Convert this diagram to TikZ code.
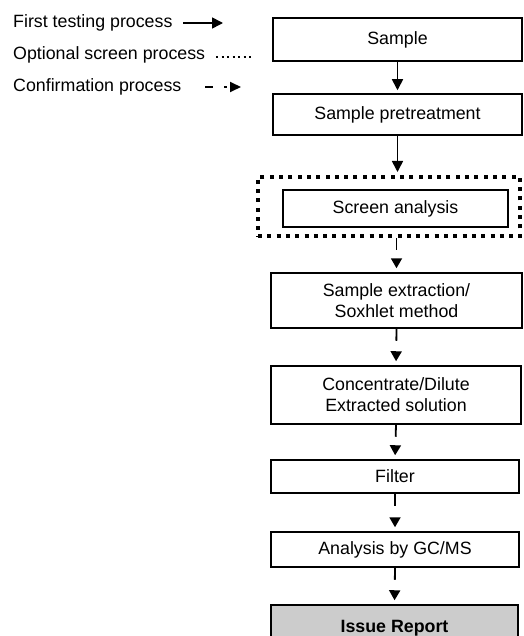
\documentclass[tikz,border=0pt]{standalone}
\usepackage{fontspec}
\setmainfont{Liberation Sans}
\usetikzlibrary{arrows.meta}
\begin{document}
\begin{tikzpicture}
[x=1pt,y=-1pt,
  boxdecorate/.style={shape=rectangle,draw,line width=1.5pt,inner sep=2pt,align=center,font=\fontsize{17.8}{21}\selectfont},%
  legenddecorate/.style={anchor=west,inner sep=0pt,font=\fontsize{17.8}{21}\selectfont},%
  firstdecorate/.style={-{Triangle[length=11pt,width=11pt]},line width=1.6pt},%
  optiondecorate/.style={line width=2pt,dash pattern=on 2pt off 3.5pt},%
  confirmdecorate/.style={-{Triangle[length=10pt,width=11pt]},line width=1.8pt,dash pattern=on 12pt off 40pt,shorten >=4pt}]
\useasboundingbox (0,0) rectangle (523,636);
% legend
\node (first) at (13,23) [legenddecorate] {First testing process};
\node (option) at (13,55) [legenddecorate] {Optional screen process};
\node (confirm) at (13,87) [legenddecorate] {Confirmation process};
\coordinate (firstA) at (183,23);
\coordinate (firstB) at (223,23);
\coordinate (optionA) at (216,57);
\coordinate (optionB) at (253,57);
\coordinate (confirmA) at (205,87);
\coordinate (confirmB) at (241,87);
% nodes or boxes
\node (sample) at (397.5,39.5) [boxdecorate,minimum width=249pt,minimum height=43pt] {Sample};
\node (pretreat) at (397.5,114.5) [boxdecorate,minimum width=249pt,minimum height=41pt] {Sample pretreatment};
\node (screenout) at (389,206.5) [draw,line width=4pt,dash pattern=on 4pt off 5.3pt,minimum width=262pt,minimum height=59pt] {};
\node (screen) at (395.5,208.5) [boxdecorate,minimum width=225pt,minimum height=37pt] {Screen analysis};
\node (extract) at (396.5,300.5) [boxdecorate,minimum width=251pt,minimum height=55pt] {Sample extraction/\\Soxhlet method};
\node (concen) at (396,395) [boxdecorate,minimum width=250pt,minimum height=58pt] {Concentrate/Dilute\\Extracted solution};
\node (filter) at (395,476.5) [boxdecorate,minimum width=248pt,minimum height=33pt] {Filter};
\node (gcms) at (395,549.5) [boxdecorate,minimum width=248pt,minimum height=35pt] {Analysis by GC/MS};
\node (report) at (394.5,628) [boxdecorate,fill=gray!40,minimum width=247pt,minimum height=46pt,font=\fontsize{17.8}{21}\selectfont\bfseries] {Issue Report};
% arrows or lines
\draw [firstdecorate] (firstA) -- (firstB);
\draw [optiondecorate] (optionA) -- (optionB);
\draw [-{Triangle[length=11pt,width=10pt]},line width=1.8pt,dash pattern=on 8pt off 11pt on 2.5pt off 20pt] (confirmA) -- (confirmB);
\path
(sample.south) edge[firstdecorate,shorten >=3pt] node {} (pretreat.north)
(pretreat.south) edge[firstdecorate,shorten >=3pt] node {} (screenout.north -| pretreat.south)
(screenout.south -| extract.north) edge[confirmdecorate] node {} (extract.north)
(extract.south) edge[confirmdecorate] node {} (concen.north)
(concen.south) edge[confirmdecorate] node {} (filter.north)
(filter.south) edge[confirmdecorate] node {} (gcms.north)
(gcms.south) edge[confirmdecorate] node {} (report.north);
\end{tikzpicture}
\end{document}
